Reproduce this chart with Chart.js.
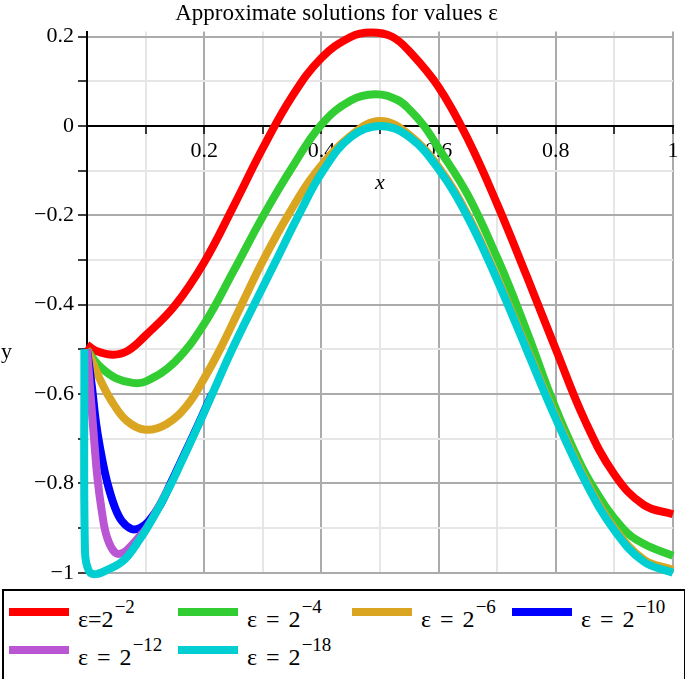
<!DOCTYPE html>
<html>
<head>
<meta charset="utf-8">
<script src="https://cdn.jsdelivr.net/npm/chart.js@4.4.1/dist/chart.umd.min.js"></script>
<style>
	body { margin: 0; background: #fff; }
	#wrap { position: relative; width: 685px; height: 590px; }
	#legend {
		position: absolute; left: 2px; top: 589px; width: 675px; height: 81px;
		border: 2px solid #000; background: #fff;
		font-family: "Liberation Serif", serif; color: #000;
		display: grid; grid-template-columns: 169px 174px 160px auto; grid-auto-rows: 38px;
		padding: 17px 0 0 5px; box-sizing: content-box;
	}
	#legend .item { position: relative; }
	#legend .swatch { position: absolute; left: 0; top: 0; width: 60px; height: 8px; }
	#legend .text { position: absolute; left: 69px; top: -1px; font-size: 24px; line-height: 24px; white-space: nowrap; word-spacing: 3px; }
	#legend .text sup { position: relative; top: -14px; font-size: 19px; vertical-align: baseline; margin-left: 1px; }
</style>
</head>
<body>
<div id="wrap"><canvas id="chart" width="685" height="590"></canvas></div>
<div id="legend"></div>
<script>
// [x, y] pairs for each epsilon.
const eps2 = [[0, -0.49], [0.015, -0.503], [0.045, -0.512], [0.07, -0.503], [0.1, -0.469], [0.15, -0.402],
	[0.2, -0.305], [0.25, -0.18], [0.3, -0.05], [0.35, 0.066], [0.4, 0.152], [0.45, 0.199], [0.484, 0.209],
	[0.52, 0.2], [0.55, 0.167], [0.6, 0.087], [0.65, -0.03], [0.7, -0.175], [0.75, -0.335], [0.8, -0.5],
	[0.85, -0.66], [0.9, -0.78], [0.95, -0.848], [1, -0.869]];
const eps4 = [[0, -0.5], [0.01, -0.52], [0.025, -0.542], [0.05, -0.565], [0.078, -0.575], [0.1, -0.572],
	[0.15, -0.528], [0.2, -0.443], [0.25, -0.325], [0.3, -0.203], [0.35, -0.093], [0.4, 0.003], [0.45, 0.057],
	[0.492, 0.071], [0.53, 0.058], [0.55, 0.037], [0.575, 0], [0.6, -0.05], [0.65, -0.155], [0.7, -0.295],
	[0.73, -0.39], [0.762, -0.5], [0.79, -0.6], [0.822, -0.7], [0.86, -0.8], [0.914, -0.9], [0.95, -0.935], [1, -0.962]];
const eps6 = [[0, -0.5], [0.01, -0.53], [0.025, -0.575], [0.045, -0.622], [0.068, -0.66], [0.1, -0.68],
	[0.136, -0.667], [0.171, -0.625], [0.2, -0.565], [0.227, -0.5], [0.262, -0.405], [0.301, -0.3], [0.344, -0.198],
	[0.39, -0.105], [0.45, -0.022], [0.5, 0.011], [0.55, -0.02], [0.6, -0.092], [0.65, -0.2], [0.7, -0.34],
	[0.75, -0.495], [0.8, -0.65], [0.852, -0.795], [0.9, -0.9], [0.95, -0.97], [1, -0.993]];
const eps10 = [[0, -0.5], [0.008, -0.58], [0.016, -0.67], [0.025, -0.74], [0.035, -0.8], [0.048, -0.855],
	[0.06, -0.885], [0.076, -0.902], [0.09, -0.9], [0.105, -0.885], [0.125, -0.848], [0.142, -0.802],
	[0.16, -0.752], [0.185, -0.682], [0.213, -0.6]];
const eps12 = [[0, -0.5], [0.006, -0.6], [0.012, -0.7], [0.018, -0.79], [0.025, -0.86], [0.034, -0.92],
	[0.048, -0.955], [0.062, -0.955], [0.075, -0.94], [0.09, -0.918], [0.1, -0.903], [0.12, -0.858], [0.142, -0.803]];
const eps18 = [[-0.0045, -0.5], [-0.0035, -0.95], [0.003, -0.995], [0.015, -1.003], [0.04, -0.99], [0.055, -0.98],
	[0.07, -0.962], [0.09, -0.925], [0.1, -0.905], [0.12, -0.86], [0.142, -0.805], [0.16, -0.755], [0.185, -0.684],
	[0.213, -0.602], [0.247, -0.502], [0.287, -0.395], [0.324, -0.298], [0.361, -0.2], [0.403, -0.1], [0.45, -0.025],
	[0.5, 0], [0.55, -0.025], [0.6, -0.097], [0.65, -0.205], [0.7, -0.345], [0.75, -0.5], [0.8, -0.655],
	[0.852, -0.8], [0.9, -0.905], [0.95, -0.975], [1, -1]];

const epsLabels = ['ε=2', 'ε = 2', 'ε = 2', 'ε = 2', 'ε = 2', 'ε = 2'];
const epsExponents = ['−2', '−4', '−6', '−10', '−12', '−18'];

const xTickValues = [0, 0.1, 0.2, 0.3, 0.4, 0.5, 0.6, 0.7, 0.8, 0.9, 1];
const xTickLabels = ['', '', '0.2', '', '0.4', '', '0.6', '', '0.8', '', '1'];
const yTickValues = [-1, -0.9, -0.8, -0.7, -0.6, -0.5, -0.4, -0.3, -0.2, -0.1, 0, 0.1, 0.2];
const yTickLabels = ['−1', '', '−0.8', '', '−0.6', '', '−0.4', '', '−0.2', '', '0', '', '0.2'];

const series = [eps2, eps4, eps6, eps10, eps12, eps18];
const colors = ['#ff0000', '#32cd32', '#daa520', '#0000ff', '#ba55d3', '#00ced1'];

const SERIF = '"Liberation Serif", "Times New Roman", serif';
const MAJOR = '#ababab';
const MINOR = '#e6e6e6';

// Grid colour per tick: none under the axes, dark on labelled ticks, light otherwise.
const gridColor = ( labels, values ) => ( ctx ) => {
	if ( values[ ctx.index ] === 0 ) return 'rgba(0,0,0,0)';
	return labels[ ctx.index ] ? MAJOR : MINOR;
};

// Maple puts the y label upright at the left, not rotated.
const yLabel = {
	id: 'yLabel',
	afterDraw( chart ) {
		const c = chart.ctx;
		c.save();
		c.font = '22px ' + SERIF;
		c.fillStyle = '#000';
		c.textBaseline = 'alphabetic';
		c.fillText( 'y', 1, chart.scales.y.getPixelForValue( -0.5 ) + 9 );
		c.restore();
	},
};

const chart = new Chart( document.getElementById( 'chart' ), {
	type: 'line',
	data: {
		datasets: series.map( ( pts, i ) => ( {
			label: epsLabels[ i ] + '^' + epsExponents[ i ],
			data: pts.map( ( p ) => ( { x: p[ 0 ], y: p[ 1 ] } ) ),
			borderColor: colors[ i ],
			backgroundColor: colors[ i ],
			borderWidth: 8,
			pointRadius: 0,
			tension: 0.4,
			clip: false,
			order: series.length - 1 - i,
		} ) ),
	},
	options: {
		responsive: false,
		animation: false,
		devicePixelRatio: 1,
		elements: { line: { capBezierPoints: false } },
		layout: { padding: { left: 0, right: 12, top: 0, bottom: 13 } },
		plugins: {
			legend: { display: false },
			tooltip: { enabled: false },
			title: {
				display: true,
				text: 'Approximate solutions for values ε',
				color: '#000',
				font: { family: SERIF, size: 23, weight: 'normal' },
				padding: { top: 0, bottom: 4 },
			},
		},
		scales: {
			x: {
				type: 'linear',
				bounds: 'data',
				position: { y: 0 },
				// range fixed here (not via min/max) so the cyan start just left of x = 0 is still drawn
				afterDataLimits: ( s ) => { s.min = 0; s.max = 1; },
				afterBuildTicks: ( s ) => { s.ticks = xTickValues.map( ( v ) => ( { value: v } ) ); },
				ticks: {
					autoSkip: false,
					maxRotation: 0,
					padding: 5,
					color: '#000',
					font: { family: SERIF, size: 22 },
					callback: ( v, i ) => xTickLabels[ i ],
				},
				grid: { color: gridColor( xTickLabels, xTickValues ), lineWidth: 2, tickLength: 7, tickColor: '#000', tickWidth: 1.5 },
				border: { color: '#000', width: 2 },
				title: { display: true, text: 'x', color: '#000', font: { family: SERIF, size: 22, style: 'italic' }, padding: { top: 1, bottom: 0 } },
			},
			y: {
				type: 'linear',
				min: -1,
				max: 0.211,
				position: 'left',
				afterBuildTicks: ( s ) => { s.ticks = yTickValues.map( ( v ) => ( { value: v } ) ); },
				afterFit: ( s ) => { s.width = 87; },
				ticks: {
					autoSkip: false,
					padding: 4,
					color: '#000',
					font: { family: SERIF, size: 22 },
					callback: ( v, i ) => yTickLabels[ i ],
				},
				grid: { color: gridColor( yTickLabels, yTickValues ), lineWidth: 2, tickLength: 9, tickColor: '#000', tickWidth: 1.5 },
				border: { color: '#000', width: 2 },
			},
		},
	},
	plugins: [ yLabel ],
} );

// Legend with real superscripts, built from the chart's own datasets.
const legend = document.getElementById( 'legend' );
chart.data.datasets.forEach( ( ds, i ) => {
	const item = document.createElement( 'div' );
	item.className = 'item';
	item.innerHTML = `<span class="swatch" style="background:${ ds.borderColor }"></span>` +
		`<span class="text">${ epsLabels[ i ] }<sup>${ epsExponents[ i ] }</sup></span>`;
	legend.appendChild( item );
} );
</script>
</body>
</html>
